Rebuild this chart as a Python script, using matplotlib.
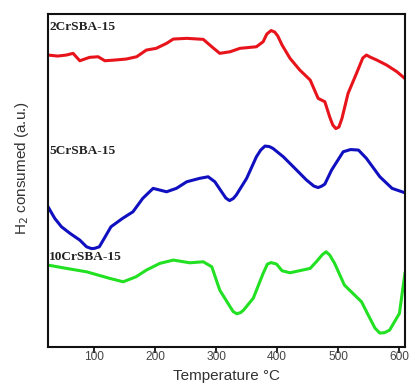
import matplotlib
matplotlib.use("Agg")
import matplotlib.pyplot as plt

# Temperature (°C) and H2 consumption (a.u., arbitrary offsets as in the plot)
t_2cr = [25, 41, 55, 66, 77, 93, 107, 118, 134, 153, 170, 186, 202, 219, 230, 252, 279, 293,
         306, 323, 339, 366, 377, 383, 390, 396, 401, 408, 421, 437, 454, 467, 478, 486, 491,
         496, 501, 506, 516, 530, 540, 546, 552, 563, 579, 596, 609]
h_2cr = [292, 291, 292, 293.7, 286.3, 289.7, 290.3, 286.3, 287, 288, 290.3, 297, 298.7, 303.7,
         308, 308.7, 307.7, 300.3, 293.7, 295.3, 298.7, 300.3, 305.3, 313, 316.5, 315, 311,
         302, 288.7, 277, 267, 248.7, 245.3, 230, 222, 218.5, 220, 228.7, 253.7, 274, 289,
         292, 290, 287, 282, 275.3, 268.5]

t_5cr = [25, 36, 47, 61, 77, 88, 96, 101, 109, 128, 147, 164, 180, 197, 219, 235, 252, 273,
         287, 298, 309, 316, 322, 328, 333, 350, 366, 373, 380, 387, 393, 410, 429, 448, 460,
         467, 473, 478, 489, 508, 520, 533, 546, 568, 588, 609]
h_5cr = [140.3, 128.7, 120.3, 113.7, 107, 100.3, 98.5, 98.7, 100.3, 120.3, 128.7, 135.3, 148.7,
         158.7, 155.3, 158.7, 165.3, 168.7, 170.3, 165.3, 155.3, 149, 146.5, 148.5, 152, 168.7,
         190.3, 197, 201, 200.5, 198.7, 190.3, 178.7, 167, 161, 159.5, 161, 163, 177, 195.3,
         197.5, 197, 188.7, 170.3, 158.7, 154.3]

t_10cr = [25, 55, 88, 126, 148, 169, 186, 208, 230, 257, 279, 293, 306, 323, 328, 334, 340,
          345, 361, 377, 384, 390, 399, 408, 421, 454, 465, 474, 480, 486, 494, 510, 538,
          549, 560, 568, 576, 584, 600, 609]
h_10cr = [82, 78.7, 75.3, 68.7, 65.3, 70.3, 77, 83.7, 87, 84.3, 85.3, 80.3, 57, 40.3, 35.5,
          33.3, 34.5, 37, 49, 73.7, 83, 84.5, 83, 76.3, 74.3, 78.7, 86, 92.5, 95.3, 92,
          83.7, 62, 45.3, 32, 19, 14, 14.5, 17, 33.7, 73.7]

series_labels = ["2CrSBA-15", "5CrSBA-15", "10CrSBA-15"]
label_y = [320, 196, 90]
xticks = [100, 200, 300, 400, 500, 600]

fig = plt.figure(figsize=(4.09, 3.90), dpi=100)
ax = fig.add_axes([0.1174, 0.110, 0.8726, 0.854])

ax.plot(t_2cr, h_2cr, color="#e8141c", lw=2.2, solid_joinstyle="round")
ax.plot(t_5cr, h_5cr, color="#1010c0", lw=2.2, solid_joinstyle="round")
ax.plot(t_10cr, h_10cr, color="#22e022", lw=2.2, solid_joinstyle="round")

for lab, yy in zip(series_labels, label_y):
    ax.text(27, yy, lab, ha="left", va="center", fontsize=9.6, fontweight="bold",
            family="Liberation Serif", color="#222222")

ax.set_xlim(25, 609)
ax.set_ylim(0, 333)
ax.set_xticks(xticks)
ax.set_yticks([])
ax.tick_params(axis="x", direction="out", length=4, width=1.2, pad=-1,
               labelsize=8.6, labelcolor="#444444")
for lbl in ax.get_xticklabels():
    lbl.set_family("Liberation Sans")
for sp in ax.spines.values():
    sp.set_linewidth(1.5)
    sp.set_color("#111111")

ax.set_xlabel("Temperature °C", fontsize=11, family="Liberation Sans", color="#333333",
              labelpad=4)
fig.text(0.054, 0.57, "H$_2$ consumed (a.u.)", rotation=90, ha="center", va="center",
         fontsize=11, family="Liberation Sans", color="#333333")

fig.savefig("out.png", dpi=100)
